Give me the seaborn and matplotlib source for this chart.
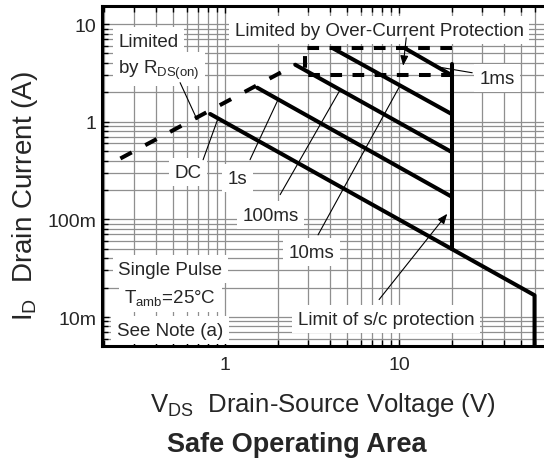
import pandas as pd
import seaborn as sns
import matplotlib.pyplot as plt
from matplotlib.ticker import FixedLocator, FixedFormatter, LogLocator, NullFormatter

# SOA curves (V_DS in volts, I_D in amps)
rds_v = [0.25, 2.53]
rds_i = [0.42, 3.83]
dc_v = [0.82, 60, 60]
dc_i = [1.2, 0.0167, 0.005]
s1_v = [1.53, 20]
s1_i = [2.23, 0.171]
ms100_v = [2.53, 20]
ms100_i = [3.83, 0.49]
ms10_v = [4.12, 20]
ms10_i = [5.7, 1.2]
ms1_v = [10.7, 20]
ms1_i = [5.7, 3.0]
vlim_v = [20, 20]
vlim_i = [3.9, 0.05]
ocp_v = [20, 2.88, 2.88, 20]
ocp_i = [5.7, 5.7, 3.0, 3.0]

x_ticks = [1, 10]
x_labels = ['1', '10']
y_ticks = [0.01, 0.1, 1, 10]
y_labels = ['10m', '100m', '1', '10']

sns.set_theme(style='ticks')
plt.rcParams['font.family'] = ['Liberation Sans', 'DejaVu Sans']
plt.rcParams['mathtext.fontset'] = 'custom'
plt.rcParams['mathtext.rm'] = 'Liberation Sans'

solid = pd.concat([
    pd.DataFrame({'curve': 'DC', 'V': dc_v, 'I': dc_i}),
    pd.DataFrame({'curve': '1s', 'V': s1_v, 'I': s1_i}),
    pd.DataFrame({'curve': '100ms', 'V': ms100_v, 'I': ms100_i}),
    pd.DataFrame({'curve': '10ms', 'V': ms10_v, 'I': ms10_i}),
    pd.DataFrame({'curve': '1ms', 'V': ms1_v, 'I': ms1_i}),
    pd.DataFrame({'curve': 'vmax', 'V': vlim_v, 'I': vlim_i}),
], ignore_index=True)

fig = plt.figure(figsize=(5.44, 4.6), dpi=100)
ax = fig.add_axes([102 / 544, 1 - 347 / 460, 442 / 544, 340 / 460])
ax.set_xscale('log')
ax.set_yscale('log')

sns.lineplot(data=solid, x='V', y='I', units='curve', estimator=None, sort=False,
             color='black', linewidth=2.9, ax=ax, legend=False)
sns.lineplot(x=rds_v, y=rds_i, estimator=None, sort=False, color='black', linewidth=2.9, ax=ax)
ax.lines[-1].set_linestyle((0, (3.2, 3.8)))
sns.lineplot(x=ocp_v, y=ocp_i, estimator=None, sort=False, color='black', linewidth=2.9, ax=ax)
ax.lines[-1].set_linestyle((0, (2.9, 2.6)))

ax.set_xlim(0.196, 68)
ax.set_ylim(0.00505, 15.3)

ax.xaxis.set_major_locator(FixedLocator(x_ticks))
ax.xaxis.set_major_formatter(FixedFormatter(x_labels))
ax.yaxis.set_major_locator(FixedLocator(y_ticks))
ax.yaxis.set_major_formatter(FixedFormatter(y_labels))
for axis in (ax.xaxis, ax.yaxis):
    axis.set_minor_locator(LogLocator(base=10, subs=range(2, 10), numticks=20))
    axis.set_minor_formatter(NullFormatter())

ax.grid(True, which='both', color='#8f8f8f', linewidth=0.9)
ax.set_axisbelow(True)
ax.tick_params(which='both', direction='in', top=True, right=False, color='black', width=1)
ax.tick_params(which='major', length=5, labelsize=14)
ax.tick_params(axis='x', which='major', pad=7)
ax.tick_params(axis='y', which='major', pad=4)
ax.tick_params(which='minor', length=4)
for side in ['left', 'top', 'bottom']:
    ax.spines[side].set_linewidth(2.2)
    ax.spines[side].set_color('black')
ax.spines['right'].set_visible(False)

# labels on white boxes
box = dict(boxstyle='square,pad=0.3', fc='white', ec='none')
fs = 13.5
ax.text(0.243, 6.0, 'Limited', fontsize=fs, ha='left', va='baseline', bbox=box)
ax.text(0.243, 3.17, r'by $\mathregular{R_{DS(on)}}$', fontsize=fs, ha='left', va='baseline', bbox=box)
ax.text(7.67, 7.77, 'Limited by Over-Current Protection', fontsize=fs, ha='center', va='baseline', bbox=box)
ax.text(36.6, 2.51, '1ms', fontsize=fs, ha='center', va='baseline', bbox=box)
ax.text(0.613, 0.274, 'DC', fontsize=fs, ha='center', va='baseline', bbox=box)
ax.text(1.18, 0.238, '1s', fontsize=fs, ha='center', va='baseline', bbox=box)
ax.text(1.82, 0.0993, '100ms', fontsize=fs, ha='center', va='baseline', bbox=box)
ax.text(3.14, 0.0415, '10ms', fontsize=fs, ha='center', va='baseline', bbox=box)
ax.text(8.42, 0.00856, 'Limit of s/c protection', fontsize=fs, ha='center', va='baseline', bbox=box)
ax.text(0.483, 0.0278, 'Single Pulse', fontsize=fs, ha='center', va='baseline', bbox=box)
ax.text(0.483, 0.01438, r'$\mathregular{T_{amb}}$=25°C', fontsize=fs, ha='center', va='baseline', bbox=box)
ax.text(0.483, 0.0066, 'See Note (a)', fontsize=fs, ha='center', va='baseline', bbox=box)

# pointer lines
thin = dict(arrowstyle='-', color='black', lw=0.8, shrinkA=0, shrinkB=0)
head = dict(arrowstyle='-|>,head_length=0.5,head_width=0.2', color='black', lw=0.8,
            shrinkA=0, shrinkB=0)
ax.annotate('', xy=(0.69, 1.05), xytext=(0.551, 2.51), arrowprops=thin)
ax.annotate('', xy=(0.91, 1.08), xytext=(0.747, 0.408), arrowprops=thin)
ax.annotate('', xy=(2.016, 1.69), xytext=(1.39, 0.408), arrowprops=thin)
ax.annotate('', xy=(4.58, 2.12), xytext=(2.07, 0.179), arrowprops=thin)
ax.annotate('', xy=(10.1, 2.33), xytext=(3.42, 0.0694), arrowprops=thin)
ax.annotate('', xy=(16.8, 3.63), xytext=(26.3, 3.17), arrowprops=thin)
ax.annotate('', xy=(10.55, 3.74), xytext=(10.98, 7.23), arrowprops=head)
ax.annotate('', xy=(18.9, 0.114), xytext=(7.67, 0.0151), arrowprops=head)

ax.set_xlabel(r'$\mathregular{V_{DS}}$  Drain-Source Voltage (V)', fontsize=18.5, va='baseline')
ax.xaxis.set_label_coords(323 / 544, 1 - 412 / 460, transform=fig.transFigure)
ax.set_ylabel(r'$\mathregular{I_D}$  Drain Current (A)', fontsize=20, va='baseline', ha='center')
ax.yaxis.set_label_coords(32 / 544, 1 - 196 / 460, transform=fig.transFigure)

fig.text(297 / 544, 1 - 452 / 460, 'Safe Operating Area', ha='center', va='baseline',
         fontsize=19.5, fontweight='bold')

plt.savefig('out.png', dpi=100)
